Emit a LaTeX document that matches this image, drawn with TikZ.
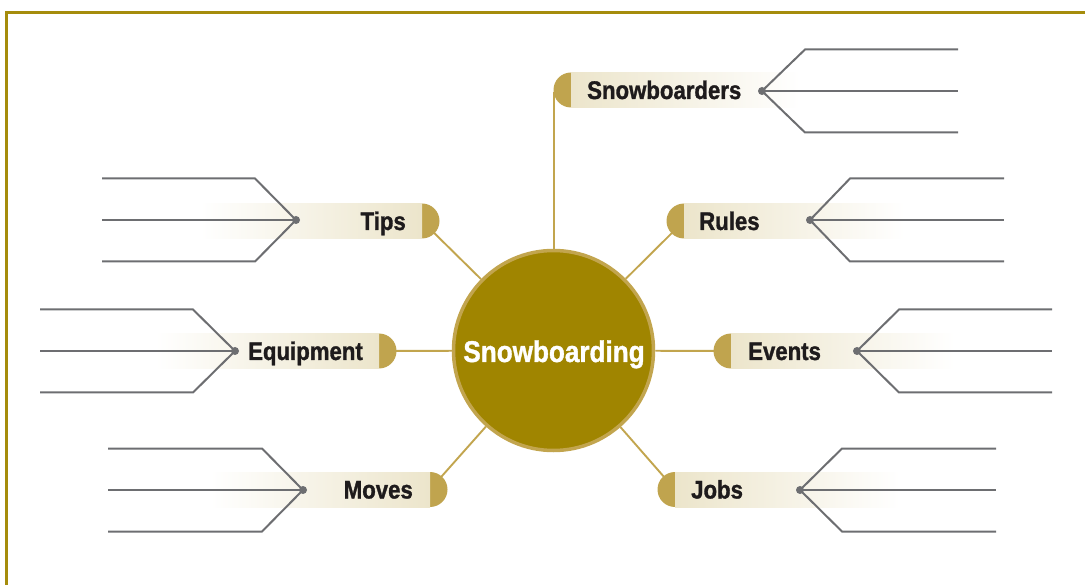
\documentclass[tikz,border=0pt]{standalone}
\usepackage{fontspec}
\newfontfamily\labfont{Liberation Sans Bold}[FakeStretch=0.87,FakeBold=1.2]
\definecolor{goldfill}{RGB}{160,133,0}
\definecolor{goldline}{RGB}{194,165,78}
\definecolor{capc}{RGB}{192,164,78}
\definecolor{barc}{RGB}{236,229,203}
\definecolor{framec}{RGB}{165,140,12}
\definecolor{txtc}{RGB}{30,27,28}
\definecolor{grayc}{RGB}{109,110,113}
\begin{document}
\begin{tikzpicture}[x=1pt,y=-1pt,
  conn/.style={draw=goldline,line width=1.9pt},
  capdisc/.style={fill=capc},
  wline/.style={draw=grayc,line width=2pt},
  wdot/.style={fill=grayc},
  lab/.style={font=\labfont\fontsize{25.5}{25.5}\selectfont,text=txtc,inner sep=0pt},
  hub/.style={circle,minimum size=200pt,inner sep=0pt,fill=goldfill,draw=goldline,line width=3.5pt}]
\useasboundingbox (0,0) rectangle (1085,585);
% frame
\draw[framec,line width=2.8pt] (6.7,590) -- (6.7,12.5) -- (1090,12.5);
% cap coordinates
\coordinate (sbc) at (571,90);
\coordinate (sbe) at (554,92);
\coordinate (sbh) at (554,252);
\coordinate (ruc) at (684,221);
\coordinate (evc) at (731,351);
\coordinate (joc) at (675,489.5);
\coordinate (tic) at (422,221);
\coordinate (eqc) at (379,351);
\coordinate (moc) at (430,489.5);
% vertical connector (under the hub)
\draw[draw=goldline,line width=2.2pt] (sbh) -- (sbe);
% hub
\node[hub] (hub) at (553.5,350.5) {};
% connectors
\foreach \c in {ruc,evc,joc,tic,eqc,moc}{\draw[conn] (hub) -- (\c);}
% caps
\foreach \c in {sbc,ruc,evc,joc,tic,eqc,moc}{\fill[capdisc] (\c) circle (17.5pt);}
% bars
\shade[left color=barc,right color=white] (571,72.5) rectangle (800,107.5);
\shade[left color=barc,right color=white] (684,203.5) rectangle (905,238.5);
\shade[left color=barc,right color=white] (731,333.5) rectangle (955,368.5);
\shade[left color=barc,right color=white] (675,472) rectangle (900,507);
\shade[left color=white,right color=barc] (200,203.5) rectangle (422,238.5);
\shade[left color=white,right color=barc] (155,333.5) rectangle (379,368.5);
\shade[left color=white,right color=barc] (210,472) rectangle (430,507);
% writing lines
\foreach \n/\x/\y/\k/\e in {sb/762/91/805/958, ru/810/220/850/1004, ev/857/351/899/1052, jo/800/490/842/996, ti/296/220/255/102, eq/235/351/193/40, mo/303/490/262/108}{
  \coordinate (\n d) at (\x,\y);
  \coordinate (\n t) at (\k,\y-41.5);
  \coordinate (\n b) at (\k,\y+41.5);
  \coordinate (\n T) at (\e,\y-41.5);
  \coordinate (\n M) at (\e,\y);
  \coordinate (\n B) at (\e,\y+41.5);
  \draw[wline] (\n d) -- (\n t) -- (\n T);
  \draw[wline] (\n d) -- (\n M);
  \draw[wline] (\n d) -- (\n b) -- (\n B);
  \fill[wdot] (\n d) circle (4pt);
}
% labels
\node[lab,anchor=base west] (sbl) at (587,99) {Snowboarders};
\node[lab,anchor=base west] (rul) at (699,230) {Rules};
\node[lab,anchor=base west] (evl) at (748,360) {Events};
\node[lab,anchor=base west] (jol) at (691,498.5) {Jobs};
\node[lab,anchor=base east] (til) at (406,230) {Tips};
\node[lab,anchor=base east] (eql) at (363,360) {Equipment};
\node[lab,anchor=base east] (mol) at (413,498.5) {Moves};
\node[font=\labfont\fontsize{30}{30}\selectfont,text=white,inner sep=0pt,anchor=base] (hubl) at (554,362) {Snowboarding};
\end{tikzpicture}
\end{document}
